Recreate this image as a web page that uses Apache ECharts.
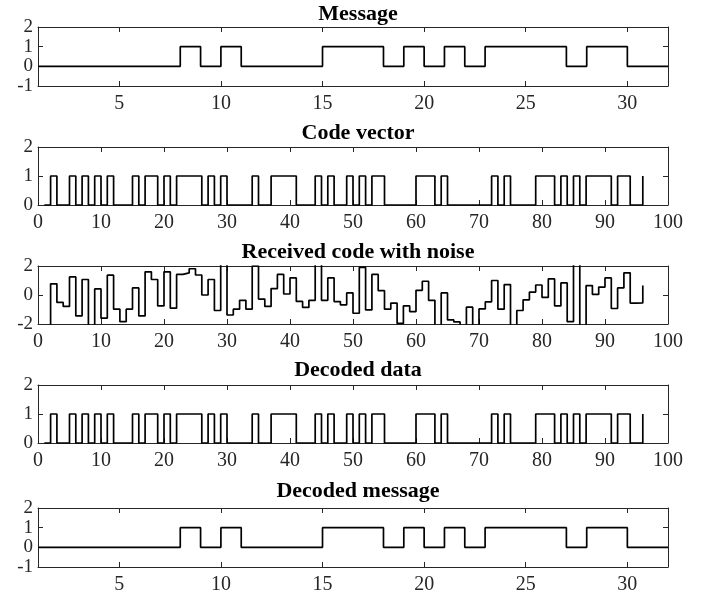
<!DOCTYPE html>
<html>
<head>
<meta charset="utf-8">
<script src="https://cdn.jsdelivr.net/npm/echarts@6/dist/echarts.min.js"></script>
<style>
  html, body { margin: 0; padding: 0; background: #fff; }
  #main { width: 707px; height: 596px; }
</style>
</head>
<body>
<div id="main"></div>
<script>
// message bits, x = 1..32
var message = [0,0,0,0,0,0,0,1,0,1,0,0,0,0,1,1,1,0,1,0,1,0,1,1,1,1,0,1,1,0,0,0];

// encoded bits, x = 1..96
var codeVector = [
  0,1,0,0,1,0,1,0,1,0,
  1,0,0,0,1,0,1,1,0,1,
  0,1,1,1,1,0,1,0,1,0,
  0,0,0,1,0,0,1,1,1,1,
  0,0,0,1,0,1,0,0,1,0,
  1,0,1,1,0,0,0,0,0,1,
  1,1,0,1,0,0,0,0,0,0,
  0,1,0,1,0,0,0,0,1,1,
  1,0,1,0,1,0,1,1,1,1,
  0,1,1,0,0,1
];

// received samples (values beyond +-2 run off the axes)
var received = [
  -2.3, 0.77, -0.51, -0.79, 1.25, -1.44, 1.07, -2.4, 0.42, -1.6,
  1.37, -0.98, -1.84, -0.98, 0.49, -1.44, 1.6, 1.07, -0.75, 1.6,
  -0.91, 1.42, 1.53, 1.81, 1.38, 0.0, 1.07, -1.07, 2.3, -1.38,
  -0.98, -0.37, -0.98, 2.0, -0.28, -0.79, 0.44, 1.42, 0.07, 1.18,
  -0.44, -0.86, -0.37, 2.4, -0.37, 1.18, -0.45, -0.68, 0.14, -1.26,
  1.9, -1.03, 1.42, 0.30, -0.98, -0.56, -1.96, -0.75, -1.14, 0.32,
  0.95, -0.37, -2.3, 0.14, -1.72, -1.86, -2.2, -0.84, -2.3, -0.96,
  -0.47, 1.0, -0.98, 0.72, -2.2, -1.07, -0.33, 0.2, 0.69, -0.17,
  1.11, -0.75, 0.83, -1.84, 2.5, -2.5, 0.65, 0.04, 0.55, 1.18,
  -0.93, 0.49, 1.53, -0.56, -0.55, 0.65
];

var decodedData = [
  0,1,0,0,1,0,1,0,1,0,
  1,0,0,0,1,0,1,1,0,1,
  0,1,1,1,1,0,1,0,1,0,
  0,0,0,1,0,0,1,1,1,1,
  0,0,0,1,0,1,0,0,1,0,
  1,0,1,1,0,0,0,0,0,1,
  1,1,0,1,0,0,0,0,0,0,
  0,1,0,1,0,0,0,0,1,1,
  1,0,1,0,1,0,1,1,1,1,
  0,1,1,0,0,1
];

var decodedMessage = [0,0,0,0,0,0,0,1,0,1,0,0,0,0,1,1,1,0,1,0,1,0,1,1,1,1,0,1,1,0,0,0];

var titles = ['Message', 'Code vector', 'Received code with noise', 'Decoded data', 'Decoded message'];
var msgTicks = [5, 10, 15, 20, 25, 30];
var codeTicks = [0, 10, 20, 30, 40, 50, 60, 70, 80, 90, 100];

var panels = [
  { data: message,        xMin: 1, xMax: 32,  xTicks: msgTicks,  yMin: -1, yMax: 2, yStep: 1, top: 27,  h: 59, titleTop: -2 },
  { data: codeVector,     xMin: 0, xMax: 100, xTicks: codeTicks, yMin: 0,  yMax: 2, yStep: 1, top: 147, h: 58, titleTop: 117 },
  { data: received,       xMin: 0, xMax: 100, xTicks: codeTicks, yMin: -2, yMax: 2, yStep: 2, top: 266, h: 58, titleTop: 236 },
  { data: decodedData,    xMin: 0, xMax: 100, xTicks: codeTicks, yMin: 0,  yMax: 2, yStep: 1, top: 385, h: 58, titleTop: 354 },
  { data: decodedMessage, xMin: 1, xMax: 32,  xTicks: msgTicks,  yMin: -1, yMax: 2, yStep: 1, top: 508, h: 59, titleTop: 475 }
];

var axisColor = '#262626';
var font = 'Liberation Serif, Times New Roman, serif';

var option = {
  animation: false,
  backgroundColor: '#fff',
  title: [],
  grid: [],
  xAxis: [],
  yAxis: [],
  series: []
};

panels.forEach(function (p, i) {
  option.title.push({
    text: titles[i],
    left: 353,
    top: p.titleTop,
    textAlign: 'center',
    textStyle: { fontFamily: font, fontWeight: 'bold', fontSize: 22, color: '#000' }
  });
  option.grid.push({ left: 38, right: 39, top: p.top, height: p.h });

  var lineStyle = { show: true, onZero: false, lineStyle: { color: axisColor, width: 1 } };
  var tick = { show: true, inside: true, length: 5, lineStyle: { color: axisColor } };

  // bottom x axis with labels
  option.xAxis.push({
    type: 'value', gridIndex: i, min: p.xMin, max: p.xMax, position: 'bottom',
    axisLine: lineStyle,
    axisTick: Object.assign({}, tick, { customValues: p.xTicks }),
    axisLabel: { customValues: p.xTicks, fontFamily: font, fontSize: 20, color: axisColor, margin: 8 },
    splitLine: { show: false }
  });
  // top x axis, ticks only (box)
  option.xAxis.push({
    type: 'value', gridIndex: i, min: p.xMin, max: p.xMax, position: 'top',
    axisLine: lineStyle,
    axisTick: Object.assign({}, tick, { customValues: p.xTicks }),
    axisLabel: { show: false },
    splitLine: { show: false }
  });
  // left y axis
  option.yAxis.push({
    type: 'value', gridIndex: i, min: p.yMin, max: p.yMax, interval: p.yStep, position: 'left',
    axisLine: lineStyle, axisTick: tick,
    axisLabel: {
      fontFamily: font, fontSize: 19, lineHeight: 16, color: axisColor, margin: 5,
      showMinLabel: true, showMaxLabel: true, hideOverlap: false
    },
    splitLine: { show: false }
  });
  // right y axis, ticks only
  option.yAxis.push({
    type: 'value', gridIndex: i, min: p.yMin, max: p.yMax, interval: p.yStep, position: 'right',
    axisLine: lineStyle, axisTick: tick,
    axisLabel: { show: false },
    splitLine: { show: false }
  });

  option.series.push({
    type: 'line',
    step: 'end',
    xAxisIndex: i * 2,
    yAxisIndex: i * 2,
    data: p.data.map(function (v, k) { return [k + 1, v]; }),
    showSymbol: false,
    clip: true,
    lineStyle: { color: '#000', width: 1.7 }
  });
});

var myChart = echarts.init(document.getElementById('main'), null, { renderer: 'canvas' });
option && myChart.setOption(option);
</script>
</body>
</html>
